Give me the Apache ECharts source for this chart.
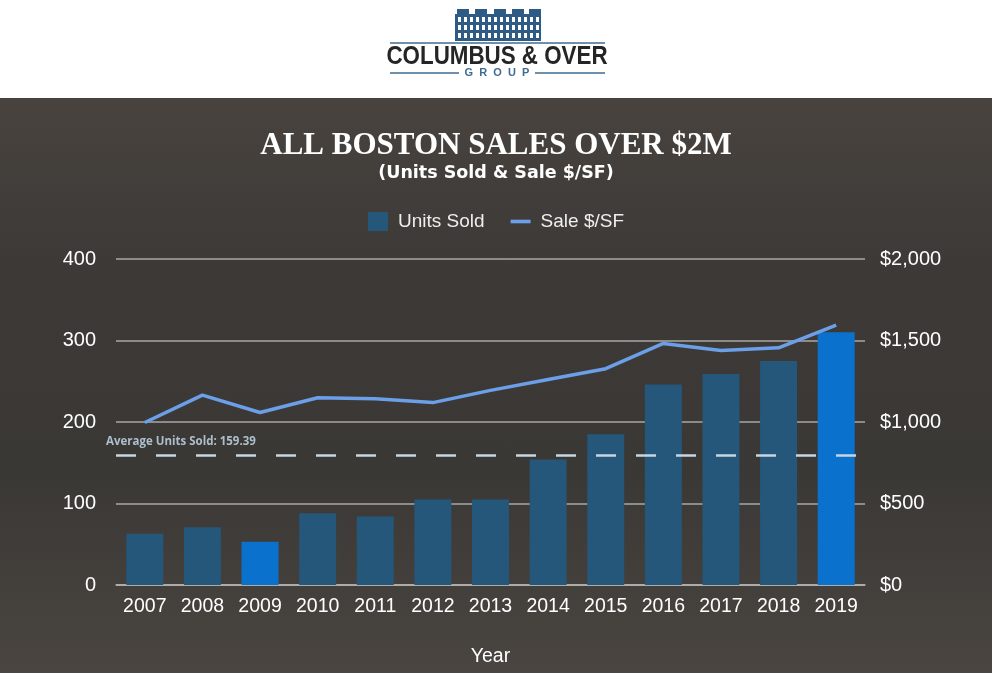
<!DOCTYPE html>
<html>
<head>
<meta charset="utf-8">
<script src="https://cdn.jsdelivr.net/npm/echarts@6/dist/echarts.min.js"></script>
<style>
  html, body { margin: 0; padding: 0; }
  body {
    width: 992px; height: 673px; overflow: hidden;
    background: linear-gradient(180deg, #ffffff 0px, #ffffff 98px, #48433f 98px, #3d3936 40%, #3a3835 70%, #4a4541 100%);
  }
  #chart { width: 992px; height: 673px; }
</style>
</head>
<body>
<div id="chart"></div>
<script>
// 数据
let years = ['2007', '2008', '2009', '2010', '2011', '2012', '2013', '2014', '2015', '2016', '2017', '2018', '2019'];
let unitsSold = [63, 71, 53, 88, 84, 105, 105, 154, 185, 246, 259, 275, 310];
let salePerSf = [997, 1165, 1058, 1149, 1143, 1119, 1194, 1261, 1327, 1482, 1439, 1455, 1595];
let highlightYears = ['2009', '2019'];
let avgUnits = 159.39;

let barColor = '#245779';
let barHighlight = '#0a72cc';
let lineColor = '#6b9fe8';

let myChart = echarts.init(document.getElementById('chart'));

// 柱子数据，2009 和 2019 用亮蓝色
let barData = unitsSold.map(function (v, i) {
    if (highlightYears.indexOf(years[i]) >= 0) {
        return { value: v, itemStyle: { color: barHighlight } };
    }
    return v;
});

// logo 的楼房图标
function buildingIcon() {
    let els = [];
    let navy = '#2d5b86';
    // 楼体
    els.push({ type: 'rect', shape: { x: 455, y: 14, width: 86, height: 27 }, style: { fill: navy } });
    let tops = [457, 475, 494, 512, 529];
    tops.forEach(function (x) {
        els.push({ type: 'rect', shape: { x: x, y: 9, width: 12, height: 6 }, style: { fill: navy } });
    });
    // 窗户
    for (let r = 0; r < 3; r++) {
        for (let c = 0; c < 14; c++) {
            els.push({
                type: 'rect',
                shape: { x: 458 + c * 6, y: 17 + r * 8, width: 3, height: 5 },
                style: { fill: '#ffffff' }
            });
        }
    }
    return els;
}

let option = {
    animation: false,
    backgroundColor: 'transparent',
    textStyle: { fontFamily: 'Liberation Sans, Arial, sans-serif' },
    title: {
        text: 'ALL BOSTON SALES OVER $2M',
        subtext: '(Units Sold & Sale $/SF)',
        left: 'center',
        top: 125,
        itemGap: 3,
        textStyle: {
            fontFamily: 'Liberation Serif, Times New Roman, serif',
            fontWeight: 'bold',
            fontSize: 31,
            color: '#ffffff'
        },
        subtextStyle: {
            fontFamily: 'DejaVu Sans, sans-serif',
            fontWeight: 'bold',
            fontSize: 17.5,
            color: '#ffffff'
        }
    },
    legend: {
        top: 207,
        left: 'center',
        itemWidth: 20,
        itemHeight: 19,
        itemGap: 26,
        data: [
            { name: 'Units Sold', icon: 'rect' },
            { name: 'Sale $/SF', icon: 'path://M0,0H22V4H0Z' }
        ],
        textStyle: { color: '#eeeeee', fontSize: 19, padding: [0, 0, 0, 5] }
    },
    grid: {
        left: 116,
        right: 127,
        top: 259,
        bottom: 88
    },
    xAxis: {
        type: 'category',
        data: years,
        name: 'Year',
        nameLocation: 'middle',
        nameGap: 62,
        nameTextStyle: { color: '#ffffff', fontSize: 19.5 },
        axisTick: { show: false },
        axisLine: { lineStyle: { color: 'rgba(200,200,200,0.7)', width: 1.5 } },
        axisLabel: { color: '#ffffff', fontSize: 19.5, margin: 12, interval: 0, hideOverlap: false }
    },
    yAxis: [
        {
            type: 'value',
            min: 0,
            max: 400,
            interval: 100,
            axisLine: { show: false },
            axisTick: { show: false },
            axisLabel: { color: '#ffffff', fontSize: 20, margin: 20 },
            splitLine: { lineStyle: { color: 'rgba(205,205,205,0.75)', width: 1.5 } }
        },
        {
            type: 'value',
            min: 0,
            max: 2000,
            interval: 500,
            axisLine: { show: false },
            axisTick: { show: false },
            splitLine: { show: false },
            axisLabel: {
                color: '#ffffff',
                fontSize: 20,
                margin: 15,
                formatter: function (v) { return '$' + v.toLocaleString('en-US'); }
            }
        }
    ],
    series: [
        {
            name: 'Units Sold',
            type: 'bar',
            data: barData,
            barWidth: 37,
            itemStyle: { color: barColor },
            markLine: {
                silent: true,
                symbol: 'none',
                data: [{ yAxis: avgUnits }],
                lineStyle: { color: '#c5d6e2', width: 2.5, type: [20, 20] },
                label: {
                    position: 'insideStartTop',
                    distance: [-10, 7],
                    formatter: 'Average Units Sold: ' + avgUnits,
                    color: '#aebfcc',
                    fontSize: 11.5,
                    fontWeight: 'bold',
                    fontFamily: 'Open Sans, sans-serif'
                }
            }
        },
        {
            name: 'Sale $/SF',
            type: 'line',
            yAxisIndex: 1,
            data: salePerSf,
            symbol: 'none',
            lineStyle: { color: lineColor, width: 3.5 },
            itemStyle: { color: lineColor },
            z: 5
        }
    ],
    graphic: [
        {
            type: 'group',
            children: buildingIcon().concat([
                { type: 'line', shape: { x1: 390, y1: 43, x2: 605, y2: 43 }, style: { stroke: '#3f6b92', lineWidth: 1.5 } },
                {
                    type: 'text',
                    x: 497, y: 57,
                    scaleX: 0.86,
                    style: {
                        text: 'COLUMBUS & OVER',
                        fill: '#252525',
                        font: 'bold 26px "Liberation Sans", Arial, sans-serif',
                        align: 'center',
                        verticalAlign: 'middle'
                    }
                },
                { type: 'line', shape: { x1: 390, y1: 73, x2: 459, y2: 73 }, style: { stroke: '#3f6b92', lineWidth: 1.5 } },
                { type: 'line', shape: { x1: 535, y1: 73, x2: 605, y2: 73 }, style: { stroke: '#3f6b92', lineWidth: 1.5 } },
                {
                    type: 'text',
                    x: 497, y: 73,
                    style: {
                        text: 'G  R  O  U  P',
                        fill: '#3f6b92',
                        font: 'bold 11px "Liberation Sans", Arial, sans-serif',
                        align: 'center',
                        verticalAlign: 'middle'
                    }
                }
            ])
        }
    ]
};

myChart.setOption(option);

window.addEventListener('resize', function () {
    myChart.resize();
});
</script>
</body>
</html>
